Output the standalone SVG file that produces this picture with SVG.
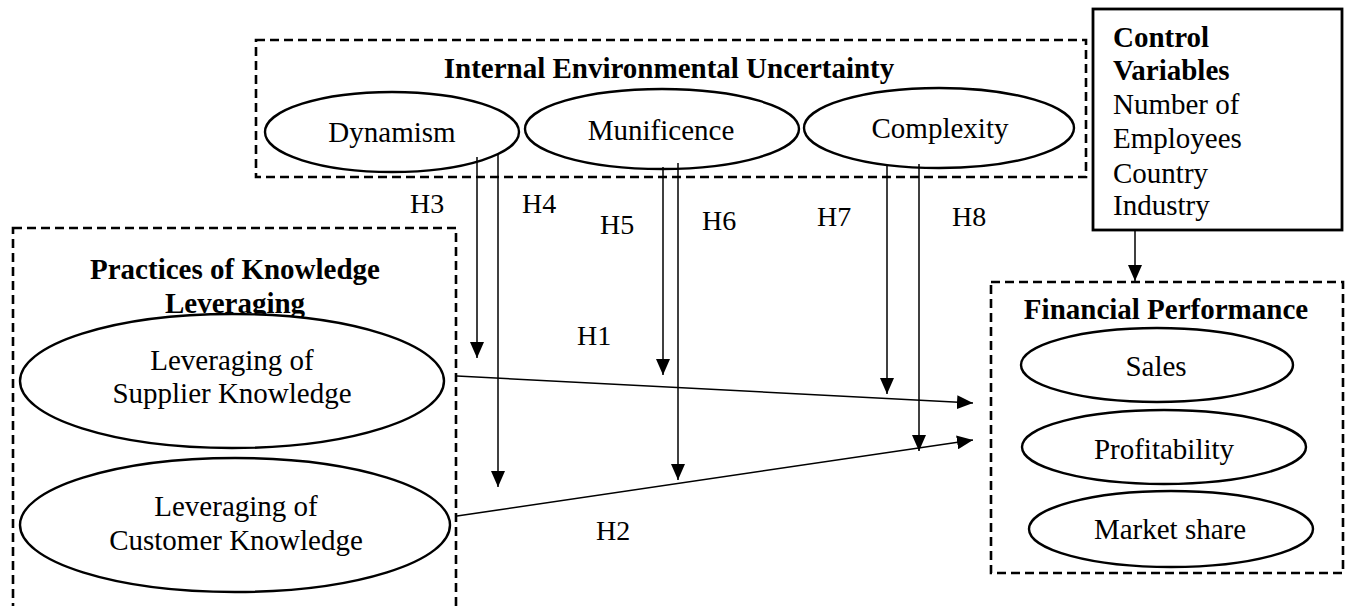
<svg xmlns="http://www.w3.org/2000/svg" width="1348" height="606" viewBox="0 0 1348 606">
<style>
text{font-family:"Liberation Serif","Times New Roman",serif;fill:#000}
.t{font-size:29px}
.b{font-size:29px;font-weight:bold}
.h{font-size:28px}
.dash{fill:none;stroke:#000;stroke-width:2.6;stroke-dasharray:9 5}
.ell{fill:#fff;stroke:#000;stroke-width:2.4}
.con{fill:none;stroke:#000;stroke-width:1.5}
</style>
<defs>
<marker id="arr" markerUnits="userSpaceOnUse" markerWidth="16" markerHeight="14" refX="16" refY="7" orient="auto">
<path d="M0,0 L16,7 L0,14 z" fill="#000"/>
</marker>
</defs>
<rect width="1348" height="606" fill="#fff"/>

<g id="internal-uncertainty">
<rect class="dash" x="256" y="40" width="830" height="137"/>
<text class="b" x="669" y="78" text-anchor="middle">Internal Environmental Uncertainty</text>
</g>
<g id="dynamism">
<ellipse class="ell" cx="392" cy="132" rx="127" ry="40"/>
<text class="t" x="392" y="142" text-anchor="middle">Dynamism</text>
</g>
<g id="munificence">
<ellipse class="ell" cx="662" cy="129" rx="137" ry="40"/>
<text class="t" x="661" y="140" text-anchor="middle">Munificence</text>
</g>
<g id="complexity">
<ellipse class="ell" cx="939" cy="128" rx="135" ry="40"/>
<text class="t" x="940" y="138" text-anchor="middle">Complexity</text>
</g>

<g id="control-variables">
<rect x="1093" y="9" width="249" height="221" fill="#fff" stroke="#000" stroke-width="2.8"/>
<text class="b" x="1113" y="47">Control</text>
<text class="b" x="1113" y="80">Variables</text>
<text class="t" x="1113" y="114">Number of</text>
<text class="t" x="1113" y="148">Employees</text>
<text class="t" x="1113" y="183">Country</text>
<text class="t" x="1113" y="215">Industry</text>
</g>

<g id="knowledge-leveraging">
<rect class="dash" x="13" y="228" width="443" height="400"/>
<text class="b" x="235" y="279" text-anchor="middle">Practices of Knowledge</text>
<text class="b" x="235" y="313" text-anchor="middle">Leveraging</text>
</g>
<g id="supplier-knowledge">
<ellipse class="ell" cx="232" cy="381" rx="212" ry="67"/>
<text class="t" x="232" y="370" text-anchor="middle">Leveraging of</text>
<text class="t" x="232" y="403" text-anchor="middle">Supplier Knowledge</text>
</g>
<g id="customer-knowledge">
<ellipse class="ell" cx="235" cy="525" rx="215" ry="67"/>
<text class="t" x="236" y="516" text-anchor="middle">Leveraging of</text>
<text class="t" x="236" y="550" text-anchor="middle">Customer Knowledge</text>
</g>

<g id="financial-performance">
<rect class="dash" x="991" y="282" width="352" height="291"/>
<text class="b" x="1166" y="319" text-anchor="middle">Financial Performance</text>
</g>
<g id="sales">
<ellipse class="ell" cx="1157" cy="365" rx="136" ry="37"/>
<text class="t" x="1156" y="376" text-anchor="middle">Sales</text>
</g>
<g id="profitability">
<ellipse class="ell" cx="1164" cy="447" rx="142" ry="37"/>
<text class="t" x="1164" y="459" text-anchor="middle">Profitability</text>
</g>
<g id="market-share">
<ellipse class="ell" cx="1171" cy="529" rx="142" ry="38"/>
<text class="t" x="1170" y="539" text-anchor="middle">Market share</text>
</g>

<g id="connectors">
<line class="con" x1="477" y1="157" x2="477" y2="358" marker-end="url(#arr)"/>
<line class="con" x1="498" y1="153" x2="498" y2="487" marker-end="url(#arr)"/>
<line class="con" x1="663" y1="167" x2="663" y2="375" marker-end="url(#arr)"/>
<line class="con" x1="678" y1="163" x2="678" y2="480" marker-end="url(#arr)"/>
<line class="con" x1="887" y1="165" x2="887" y2="394" marker-end="url(#arr)"/>
<line class="con" x1="919" y1="164" x2="919" y2="451" marker-end="url(#arr)"/>
<line class="con" x1="457" y1="376" x2="973" y2="403" marker-end="url(#arr)"/>
<line class="con" x1="457" y1="516" x2="973" y2="440" marker-end="url(#arr)"/>
<line class="con" x1="1135" y1="230" x2="1135" y2="281" marker-end="url(#arr)"/>
</g>

<g id="labels">
<text class="h" x="410" y="213">H3</text>
<text class="h" x="522" y="213">H4</text>
<text class="h" x="600" y="234">H5</text>
<text class="h" x="702" y="230">H6</text>
<text class="h" x="817" y="226">H7</text>
<text class="h" x="952" y="226">H8</text>
<text class="h" x="577" y="345">H1</text>
<text class="h" x="596" y="540">H2</text>
</g>
</svg>
